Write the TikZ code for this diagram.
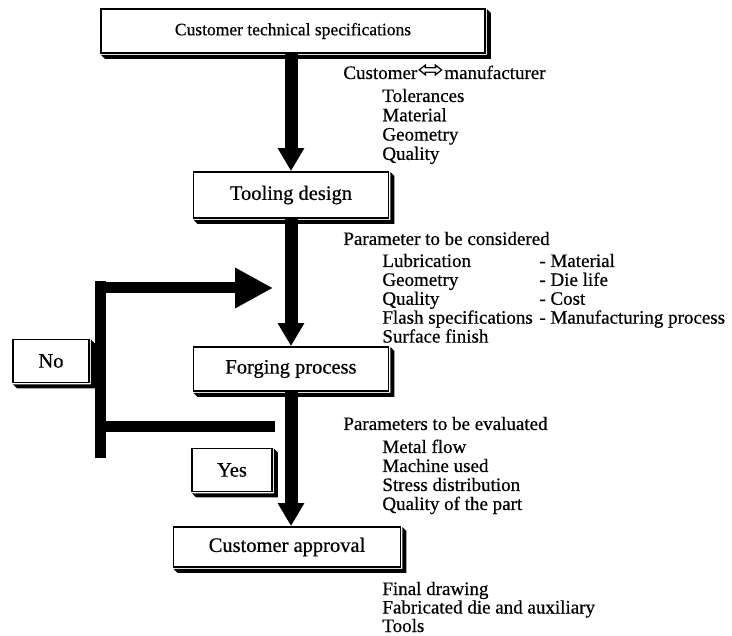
\documentclass[tikz,border=0pt]{standalone}
\usepackage{fontspec}
\setmainfont{Liberation Serif}[FakeBold=0.5]
\newfontfamily\arrowfont{DejaVu Sans}
\usetikzlibrary{arrows.meta}

\begin{document}
\begin{tikzpicture}[x=1pt, y=-1pt, thick,
  every node/.style={font=\fontsize{19}{19}\selectfont},
  stage/.style={rectangle, draw, line width=1.8pt, fill=white, inner sep=0pt,
    font=\fontsize{20.5}{20.5}\selectfont},
  txt/.style={anchor=base west, inner sep=0pt},
  flow/.style={line width=13pt, -{Triangle[length=23pt, width=25pt]}},
  loopline/.style={line width=11pt}]
\useasboundingbox (0,0) rectangle (732,636);

% main stages
\node[stage, minimum width=384pt, minimum height=44pt, font=\fontsize{17.5}{17.5}\selectfont] (spec) at (293,31) {Customer technical specifications};
\node[stage, minimum width=195pt, minimum height=46pt] (tool) at (291,195) {Tooling design};
\node[stage, minimum width=195pt, minimum height=44pt] (forge) at (291,369) {Forging process};
\node[stage, minimum width=227pt, minimum height=40pt] (approval) at (287,547) {Customer approval};
\node[stage, minimum width=76pt, minimum height=43pt] (no) at (51,361) {No};
\node[stage, minimum width=80pt, minimum height=43pt] (yes) at (232,470) {Yes};

% shadows
\foreach \n in {spec,tool,forge,approval,no,yes}
  \fill[black] ([shift={(1,1)}]\n.south west) -- ([shift={(5,5)}]\n.south west)
    -- ([shift={(5,5)}]\n.south east) -- ([shift={(5,5)}]\n.north east)
    -- ([shift={(1,1)}]\n.north east) -- ([shift={(1,1)}]\n.south east) -- cycle;

\draw[flow] (tool |- spec.south) -- (tool);
\draw[flow] (tool) -- (forge);
\draw[flow] (forge) -- (forge |- approval.north);

% feedback loop
\coordinate (back) at (275,427);
\coordinate (loopbot) at (100,458);
\coordinate (looptop) at (100,281);
\coordinate (into) at (273,288);
\draw[loopline] (back) -- (back -| loopbot);
\draw[loopline] (loopbot) -- (looptop);
\draw[loopline, -{Triangle[length=38pt, width=38pt]}] (looptop |- into) -- (into);

% notes
\node[txt] (talk) at (343,79) {Customer\scalebox{1.7}[1.35]{\arrowfont ⬄}manufacturer};
\foreach \t [count=\i] in {Tolerances, Material, Geometry, Quality}
  \node[txt] (req-\i) at (382,{102+19.3*(\i-1)}) {\t};

\node[txt] (consider) at (343,245) {Parameter to be considered};
\foreach \t [count=\i] in {Lubrication, Geometry, Quality, Flash specifications, Surface finish}
  \node[txt] (par-\i) at (382,{267+18.9*(\i-1)}) {\t};
\foreach \t [count=\i] in {Material, Die life, Cost, Manufacturing process}
  \node[txt] (parb-\i) at (539,{267+18.9*(\i-1)}) {- \t};

\node[txt] (evaluate) at (343,430) {Parameters to be evaluated};
\foreach \t [count=\i] in {Metal flow, Machine used, Stress distribution, Quality of the part}
  \node[txt] (eval-\i) at (382,{453+19*(\i-1)}) {\t};

\foreach \t [count=\i] in {Final drawing, Fabricated die and auxiliary, Tools}
  \node[txt] (out-\i) at (382,{595+18.5*(\i-1)}) {\t};
\end{tikzpicture}
\end{document}
